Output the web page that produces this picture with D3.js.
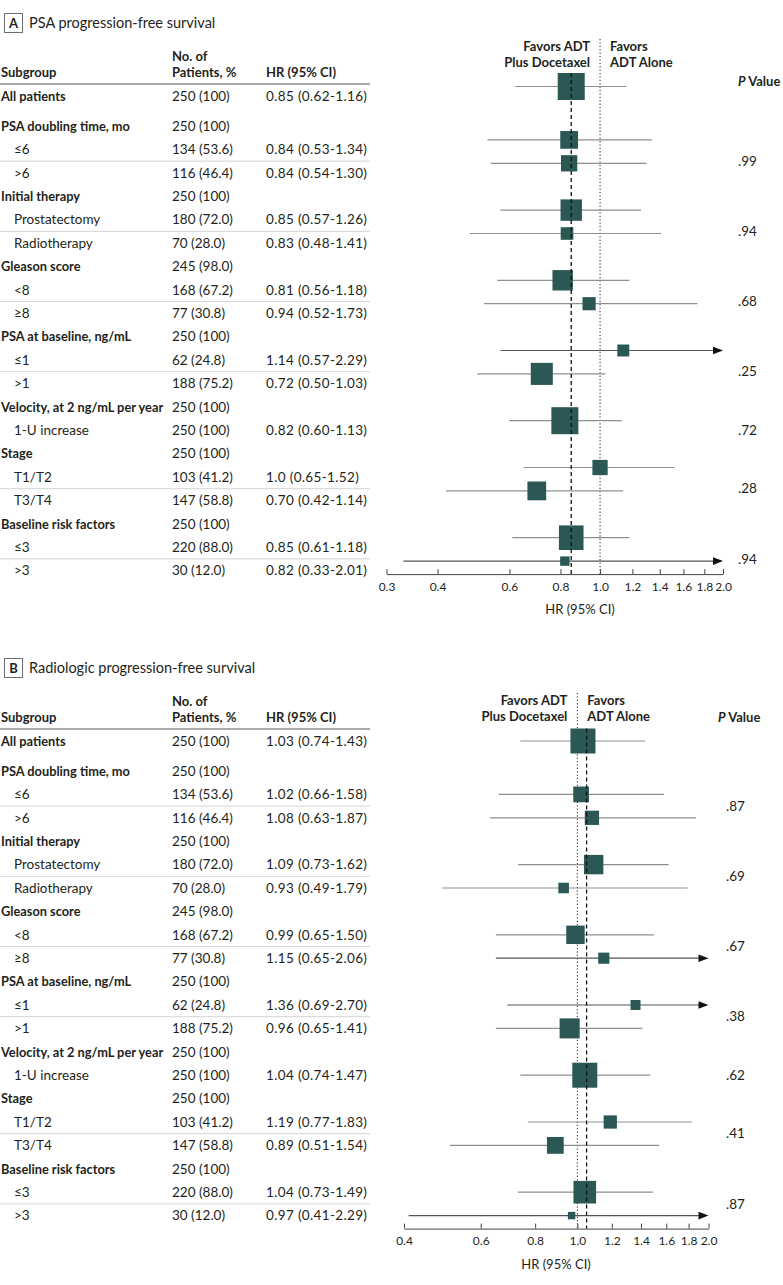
<!DOCTYPE html>
<html><head><meta charset="utf-8">
<script src="https://cdn.jsdelivr.net/npm/d3@7"></script>
<style>
html,body{margin:0;padding:0;background:#fff;}
svg text{font-family:Lato,"Open Sans",sans-serif;fill:#231f20;}
</style></head>
<body><svg id="chart" width="783" height="1285"></svg>
<script>
// ---------- data ----------
const rowLabels = ["All patients","PSA doubling time, mo","≤6",">6","Initial therapy","Prostatectomy","Radiotherapy",
  "Gleason score","<8","≥8","PSA at baseline, ng/mL","≤1",">1","Velocity, at 2 ng/mL per year","1-U increase",
  "Stage","T1/T2","T3/T4","Baseline risk factors","≤3",">3"];
const rowIsGroup = [1,1,0,0,1,0,0,1,0,0,1,0,0,1,0,1,0,0,1,0,0];
const patientText = ["250 (100)","250 (100)","134 (53.6)","116 (46.4)","250 (100)","180 (72.0)","70 (28.0)",
  "245 (98.0)","168 (67.2)","77 (30.8)","250 (100)","62 (24.8)","188 (75.2)","250 (100)","250 (100)",
  "250 (100)","103 (41.2)","147 (58.8)","250 (100)","220 (88.0)","30 (12.0)"];
const patientN = [250,250,134,116,250,180,70,245,168,77,250,62,188,250,250,250,103,147,250,220,30];

// Panel A: PSA progression-free survival
const hrA = [0.85,null,0.84,0.84,null,0.85,0.83,null,0.81,0.94,null,1.14,0.72,null,0.82,null,1.0,0.70,null,0.85,0.82];
const loA = [0.62,null,0.53,0.54,null,0.57,0.48,null,0.56,0.52,null,0.57,0.50,null,0.60,null,0.65,0.42,null,0.61,0.33];
const hiA = [1.16,null,1.34,1.30,null,1.26,1.41,null,1.18,1.73,null,2.29,1.03,null,1.13,null,1.52,1.14,null,1.18,2.01];
const hrTextA = ["0.85 (0.62-1.16)","","0.84 (0.53-1.34)","0.84 (0.54-1.30)","","0.85 (0.57-1.26)","0.83 (0.48-1.41)",
  "","0.81 (0.56-1.18)","0.94 (0.52-1.73)","","1.14 (0.57-2.29)","0.72 (0.50-1.03)","","0.82 (0.60-1.13)",
  "","1.0 (0.65-1.52)","0.70 (0.42-1.14)","","0.85 (0.61-1.18)","0.82 (0.33-2.01)"];
const pValuesA = [".99",".94",".68",".25",".72",".28",".94"];
const ticksA = [0.3,0.4,0.6,0.8,1.0,1.2,1.4,1.6,1.8,2.0];
const overallLineA = 0.85;

// Panel B: Radiologic progression-free survival
const hrB = [1.03,null,1.02,1.08,null,1.09,0.93,null,0.99,1.15,null,1.36,0.96,null,1.04,null,1.19,0.89,null,1.04,0.97];
const loB = [0.74,null,0.66,0.63,null,0.73,0.49,null,0.65,0.65,null,0.69,0.65,null,0.74,null,0.77,0.51,null,0.73,0.41];
const hiB = [1.43,null,1.58,1.87,null,1.62,1.79,null,1.50,2.06,null,2.70,1.41,null,1.47,null,1.83,1.54,null,1.49,2.29];
const hrTextB = ["1.03 (0.74-1.43)","","1.02 (0.66-1.58)","1.08 (0.63-1.87)","","1.09 (0.73-1.62)","0.93 (0.49-1.79)",
  "","0.99 (0.65-1.50)","1.15 (0.65-2.06)","","1.36 (0.69-2.70)","0.96 (0.65-1.41)","","1.04 (0.74-1.47)",
  "","1.19 (0.77-1.83)","0.89 (0.51-1.54)","","1.04 (0.73-1.49)","0.97 (0.41-2.29)"];
const pValuesB = [".87",".69",".67",".38",".62",".41",".87"];
const ticksB = [0.4,0.6,0.8,1.0,1.2,1.4,1.6,1.8,2.0];
const overallLineB = 1.05;

// subgroup blocks carrying a P value (row indices)
const pGroupRows = [[2,3],[5,6],[8,9],[11,12],[14],[16,17],[19,20]];

// ---------- drawing ----------
const svg = d3.select("#chart");
svg.append("rect").attr("width",783).attr("height",1285).attr("fill","#fff");
const boxColor = "#2b5855";

function drawPanel(cfg){
  const g = svg.append("g").attr("transform",`translate(0,${cfg.top})`);
  const rowScale = d3.scaleLinear().domain([1,20]).range([126,126+19*23.4]);
  const rowY = i => i===0 ? 96 : rowScale(i);
  const markY = i => rowY(i) + cfg.shift;
  const x = d3.scaleLog().domain(cfg.domain).range(cfg.range);
  const size = d3.scaleLinear().domain([0,250]).range(cfg.sizeRange);

  // panel letter box & title
  g.append("rect").attr("x",4.5).attr("y",13.5).attr("width",18).attr("height",19)
    .attr("fill","none").attr("stroke","#6d6e71").attr("stroke-width",1);
  g.append("text").attr("x",13.5).attr("y",28).attr("text-anchor","middle")
    .attr("font-size",13).attr("font-weight",700).text(cfg.letter);
  g.append("text").attr("x",29).attr("y",28).attr("font-size",14.5).text(cfg.title);

  // table header
  const hdr = g.append("g").attr("font-size",13).attr("font-weight",700);
  hdr.append("text").attr("x",1).attr("y",77).text("Subgroup");
  hdr.append("text").attr("x",172).attr("y",61).text("No. of");
  hdr.append("text").attr("x",172).attr("y",77).text("Patients, %");
  hdr.append("text").attr("x",266).attr("y",77).text("HR (95% CI)");
  g.append("line").attr("x1",0).attr("x2",370).attr("y1",84).attr("y2",84)
    .attr("stroke","#555").attr("stroke-width",1);

  // separators between consecutive subgroup rows
  rowLabels.forEach((d,i)=>{
    if(i>=2 && !rowIsGroup[i] && i+1<rowLabels.length && !rowIsGroup[i+1]){
      const yy = (rowY(i)+rowY(i+1))/2;
      g.append("line").attr("x1",0).attr("x2",370).attr("y1",yy).attr("y2",yy)
        .attr("stroke","#d4d4d4").attr("stroke-width",1);
    }
  });

  // table rows
  const rows = g.selectAll("g.row").data(rowLabels).join("g").attr("class","row")
    .attr("font-size",13.5);
  rows.append("text").attr("x",(d,i)=> (rowIsGroup[i]?1:14)).attr("y",(d,i)=>rowY(i)+4.7)
    .attr("font-weight",(d,i)=> rowIsGroup[i]?700:400)
    .attr("font-size",(d,i)=> rowIsGroup[i]?12.8:13.5).text(d=>d);
  rows.append("text").attr("x",172).attr("y",(d,i)=>rowY(i)+4.7).text((d,i)=>patientText[i]);
  rows.append("text").attr("x",266).attr("y",(d,i)=>rowY(i)+4.7).attr("letter-spacing",0.35)
    .text((d,i)=>cfg.hrText[i]);

  // forest header
  const fav = g.append("g").attr("font-size",13).attr("font-weight",700);
  const x1 = x(1);
  fav.append("text").attr("x",x1-10).attr("y",cfg.favY).attr("text-anchor","end").text("Favors ADT");
  fav.append("text").attr("x",x1-10).attr("y",cfg.favY+16).attr("text-anchor","end").text("Plus Docetaxel");
  fav.append("text").attr("x",x1+10).attr("y",cfg.favY).text("Favors");
  fav.append("text").attr("x",x1+10).attr("y",cfg.favY+16).text("ADT Alone");
  const ph = g.append("text").attr("x",cfg.pX).attr("y",cfg.pHeadY).attr("font-size",13).attr("font-weight",700);
  ph.append("tspan").attr("font-style","italic").text("P");
  ph.append("tspan").text(" Value");

  const axisY = markY(20) + 13;

  // reference line at HR = 1
  g.append("line").attr("x1",x1).attr("x2",x1).attr("y1",cfg.favY-12).attr("y2",axisY)
    .attr("stroke","#222").attr("stroke-width",1).attr("stroke-dasharray","1.2,2.2");

  // CI lines
  rowLabels.forEach((d,i)=>{
    if(cfg.hr[i]==null) return;
    const y = markY(i);
    const clipped = cfg.hi[i] > cfg.domain[1];
    const xs = x(Math.max(cfg.lo[i], cfg.domain[0]));
    const xe = x(Math.min(cfg.hi[i], cfg.domain[1]));
    g.append("line").attr("x1",xs).attr("x2",clipped?xe-6:xe).attr("y1",y).attr("y2",y)
      .attr("stroke",clipped?"#555":"#8f8f8f").attr("stroke-width",1.2);
    if(clipped){
      g.append("path").attr("d",`M${xe},${y} L${xe-10},${y-3.8} L${xe-10},${y+3.8} Z`).attr("fill","#111");
    }
  });
  // boxes
  rowLabels.forEach((d,i)=>{
    if(cfg.hr[i]==null) return;
    const s = size(patientN[i]);
    g.append("rect").attr("x",x(cfg.hr[i])-s/2).attr("y",markY(i)-s/2).attr("width",s).attr("height",s)
      .attr("fill",boxColor);
  });
  // dashed overall line (drawn over boxes)
  const y0 = markY(0) - size(patientN[0])/2;
  g.append("line").attr("x1",x(cfg.overall)).attr("x2",x(cfg.overall)).attr("y1",y0).attr("y2",axisY)
    .attr("stroke","#111").attr("stroke-width",1.3).attr("stroke-dasharray","4,3");

  // P values
  pGroupRows.forEach((rs,k)=>{
    const yy = d3.mean(rs, r=>rowY(r));
    g.append("text").attr("x",cfg.pValX).attr("y",yy+4.7).attr("font-size",13.5).text(cfg.pValues[k]);
  });

  // axis
  const axis = d3.axisBottom(x).tickValues(cfg.ticks).tickFormat(d3.format(".1f"))
    .tickSizeInner(-5).tickSizeOuter(0).tickPadding(8);
  const ag = g.append("g").attr("transform",`translate(0,${axisY})`).call(axis);
  ag.select(".domain").attr("stroke","#444");
  ag.selectAll(".tick line").attr("stroke","#444");
  ag.selectAll(".tick text").attr("font-size",12).attr("font-family","Lato, sans-serif").attr("fill","#231f20");
  g.append("text").attr("x",cfg.axisTitleX).attr("y",axisY+40).attr("text-anchor","middle")
    .attr("font-size",13).text("HR (95% CI)");
}

drawPanel({top:0, letter:"A", title:"PSA progression-free survival", shift:-9.5,
  domain:[0.3,2.0], range:[386.5,723], sizeRange:[7,27],
  hr:hrA, lo:loA, hi:hiA, hrText:hrTextA, pValues:pValuesA, ticks:ticksA, overall:overallLineA,
  favY:51, pHeadY:86, pX:738, pValX:738, axisTitleX:580});
drawPanel({top:645, letter:"B", title:"Radiologic progression-free survival", shift:0,
  domain:[0.4,2.0], range:[404,708.5], sizeRange:[5,25],
  hr:hrB, lo:loB, hi:hiB, hrText:hrTextB, pValues:pValuesB, ticks:ticksB, overall:overallLineB,
  favY:60, pHeadY:77, pX:718, pValX:726, axisTitleX:556});
</script></body></html>
